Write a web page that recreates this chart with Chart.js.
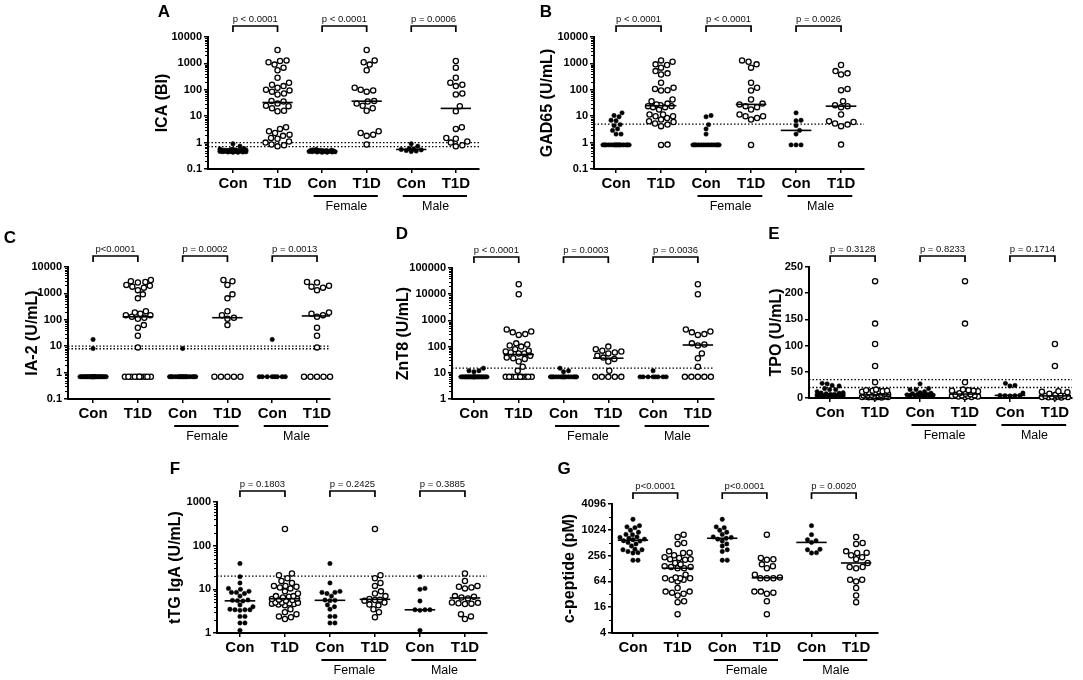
<!DOCTYPE html>
<html lang="en">
<head>
<meta charset="UTF-8">
<title>Autoantibodies and c-peptide by group</title>
<script src="https://cdn.jsdelivr.net/npm/chart.js"></script>
<style>
  body { margin: 0; background: #fff; width: 1083px; height: 680px; position: relative; overflow: hidden;
         font-family: 'Liberation Sans', Arial, sans-serif; }
  canvas { position: absolute; }
  .letter { position: absolute; font-weight: bold; font-size: 17px; transform: translate(-50%, -50%); }
</style>
</head>
<body>
<script>
// categories under each x axis, and the two sex groups
const CATS = ['Con', 'T1D', 'Con', 'T1D', 'Con', 'T1D'];
const SEX = ['Female', 'Male'];

// A - ICA (BI)
const icaFemCon = [0.55, 0.53, 0.52, 0.51, 0.5, 0.5, 0.5, 0.49, 0.48, 0.48, 0.47, 0.47, 0.46, 0.46, 0.45, 0.45, 0.44, 0.44, 0.43, 0.43];
const icaFemT1D = [3200, 1300, 1100, 900, 550, 120, 100, 95, 85, 38, 36, 30, 25, 20, 16, 2.7, 2.3, 2.0, 1.8, 0.85];
const icaMaleCon = [0.9, 0.73, 0.6, 0.57, 0.55, 0.53, 0.5, 0.48, 0.46];
const icaMaleT1D = [1230, 690, 285, 185, 155, 138, 72, 66, 24, 15.5, 3.8, 3.3, 1.5, 1.4, 1.1, 1.0, 0.79, 0.72];
const icaCut = [1, 0.7];
const icaP = ['p < 0.0001', 'p < 0.0001', 'p = 0.0006'];

// B - GAD65 (U/mL)
const gadFemCon = [10.6, 9.5, 4.8, 3.3, 2.1, 0.82, 0.82, 0.82, 0.82, 0.82, 0.82, 0.82, 0.82, 0.82, 0.82, 0.82, 0.82, 0.82];
const gadFemT1D = [1300, 1150, 920, 690, 185, 120, 94, 43, 30, 28, 24, 22, 18, 11.6, 10, 10, 8.6, 7.5, 0.82];
const gadMaleCon = [13.4, 7, 6.7, 4.4, 2.9, 2.1, 0.82, 0.82, 0.82];
const gadMaleT1D = [870, 510, 420, 380, 108, 97, 37, 26, 24, 22, 11.6, 6.4, 6, 5.3, 4.8, 4.2, 0.84];
const gadCut = [5];
const gadP = ['p < 0.0001', 'p < 0.0001', 'p = 0.0026'];

// C - IA-2 (U/mL)
const ia2FemCon = [8.2, 0.7, 0.7, 0.7, 0.7, 0.7, 0.7, 0.7, 0.7, 0.7, 0.7, 0.7, 0.7, 0.7, 0.7, 0.7, 0.7, 0.7];
const ia2FemT1D = [3200, 2900, 2100, 920, 650, 210, 150, 120, 110, 63, 0.7, 0.7, 0.7, 0.7, 0.7];
const ia2MaleCon = [18, 0.7, 0.7, 0.7, 0.7, 0.7, 0.7, 0.7, 0.7];
const ia2MaleT1D = [2700, 2600, 1950, 1800, 1650, 1330, 190, 170, 150, 130, 50, 25, 9, 0.7, 0.7, 0.7, 0.7, 0.7];
const ia2Cut = [10, 8];
const ia2P = ['p<0.0001', 'p = 0.0002', 'p = 0.0013'];

// D - ZnT8 (U/mL)
const zntFemCon = [15, 12, 11, 7, 7, 7, 7, 7, 7, 7, 7, 7, 7, 7, 7, 7, 7, 7];
const zntFemT1D = [100, 80, 70, 65, 60, 55, 45, 38, 34, 27, 12, 7, 7, 7, 7, 7];
const zntMaleCon = [12, 7, 7, 7, 7, 7, 7, 7, 7];
const zntMaleT1D = [24000, 10000, 450, 375, 350, 300, 280, 133, 120, 110, 55, 36, 17, 7, 7, 7, 7, 7];
const zntCut = [15];
const zntP = ['p < 0.0001', 'p = 0.0003', 'p = 0.0036'];

// E - TPO (U/mL)
const tpoFemCon = [27, 18, 16, 16, 12, 10, 9, 8, 7, 7, 6, 6, 5, 5, 4, 4, 3, 3];
const tpoFemT1D = [223, 142, 30, 16, 15, 14, 14, 13, 9, 8, 7, 6, 5, 5, 4, 4, 3, 3, 2, 2];
const tpoMaleCon = [28, 24, 23, 9.5, 5, 5, 4.5, 4.5, 4];
const tpoMaleT1D = [103, 61, 13, 12, 11, 8, 6, 5, 4, 4, 3, 3, 2, 2, 1.5, 1, 1];
const tpoCut = [35, 20];
const tpoP = ['p = 0.3128', 'p = 0.8233', 'p = 0.1714'];

// F - tTG IgA (U/mL)
const ttgFemCon = [39, 14, 9, 8.5, 8.5, 8, 7, 5.7, 5.6, 5.5, 4.4, 4, 3.5, 2.4, 2.4, 1.7, 1.7];
const ttgFemT1D = [240, 21, 18, 14, 12, 9, 8, 7, 6, 5.8, 5.7, 5.5, 5, 4.5, 4.3, 3.5, 3, 2.3];
const ttgMaleCon = [19.5, 10.5, 10, 5.4, 3.4, 3.4, 3.3, 3.4, 1.15];
const ttgMaleT1D = [23, 15.5, 12, 11.5, 11, 10.5, 7, 6.8, 6.5, 6.2, 5, 4.9, 4.8, 4.7, 4.6, 2.7, 2.4, 2.1];
const ttgCut = [20];
const ttgP = ['p = 0.1803', 'p = 0.2425', 'p = 0.3885'];

// G - c-peptide (pM)
const cpFemCon = [1800, 1200, 1150, 1000, 900, 800, 700, 680, 650, 620, 560, 480, 430, 350, 320, 200, 200];
const cpFemT1D = [790, 225, 210, 205, 160, 145, 130, 92, 79, 76, 76, 76, 37, 37, 35, 33, 22, 11];
const cpMaleCon = [1280, 790, 600, 570, 520, 360, 350, 300, 295];
const cpMaleT1D = [695, 505, 480, 322, 300, 295, 260, 235, 210, 172, 139, 139, 130, 70, 70, 64, 45, 30, 21];
const cpCut = [];
const cpP = ['p<0.0001', 'p<0.0001', 'p = 0.0020'];

// y axis tick labels
const ticksLog5 = [0.1, 1, 10, 100, 1000, 10000];
const ticksZnt = [1, 10, 100, 1000, 10000, 100000];
const ticksTpo = [0, 50, 100, 150, 200, 250];
const ticksTtg = [1, 10, 100, 1000];
const ticksCp = [4, 16, 64, 256, 1024, 4096];

Chart.defaults.font.family = "'Liberation Sans', Arial, sans-serif";
Chart.defaults.color = '#000';

const PL = 75, PR = 8, PT = 42, PB = 50;   // room round each plot area
const SPREAD = 13;                         // max half width of a dot column, px

const panels = [
  { letter: 'A', at: [164, 12], title: 'ICA (BI)', tdx: 45, box: [208, 37, 479, 169], xr: [0.44, 6.52], log: true, yt: ticksLog5,
    fCon: icaFemCon, fT1D: icaFemT1D, mCon: icaMaleCon, mT1D: icaMaleT1D, cut: icaCut, p: icaP },
  { letter: 'B', at: [546, 12], title: 'GAD65 (U/mL)', tdx: 46, box: [594, 37, 864, 169], xr: [0.51, 6.51], log: true, yt: ticksLog5,
    fCon: gadFemCon, fT1D: gadFemT1D, mCon: gadMaleCon, mT1D: gadMaleT1D, cut: gadCut, p: gadP },
  { letter: 'C', at: [10, 238], title: 'IA-2 (U/mL)', tdx: 35, box: [68, 267, 330, 399], xr: [0.44, 6.29], log: true, yt: ticksLog5,
    fCon: ia2FemCon, fT1D: ia2FemT1D, mCon: ia2MaleCon, mT1D: ia2MaleT1D, cut: ia2Cut, p: ia2P },
  { letter: 'D', at: [402, 234], title: 'ZnT8 (U/mL)', tdx: 48, box: [452, 268, 714, 399], xr: [0.51, 6.36], log: true, yt: ticksZnt,
    fCon: zntFemCon, fT1D: zntFemT1D, mCon: zntMaleCon, mT1D: zntMaleT1D, cut: zntCut, p: zntP },
  { letter: 'E', at: [774, 234], title: 'TPO (U/mL)', tdx: 32, box: [809, 267, 1072, 398], xr: [0.53, 6.38], log: false, yt: ticksTpo,
    fCon: tpoFemCon, fT1D: tpoFemT1D, mCon: tpoMaleCon, mT1D: tpoMaleT1D, cut: tpoCut, p: tpoP },
  { letter: 'F', at: [175, 469], title: 'tTG IgA (U/mL)', tdx: 41, box: [217, 502, 487, 633], xr: [0.49, 6.49], log: true, yt: ticksTtg,
    fCon: ttgFemCon, fT1D: ttgFemT1D, mCon: ttgMaleCon, mT1D: ttgMaleT1D, cut: ttgCut, p: ttgP },
  { letter: 'G', at: [564, 469], title: 'c-peptide (pM)', tdx: 42, box: [612, 504, 878, 633], xr: [0.53, 6.49], log: true, yt: ticksCp,
    fCon: cpFemCon, fT1D: cpFemT1D, mCon: cpMaleCon, mT1D: cpMaleT1D, cut: cpCut, p: cpP }
];

function median(a) {
  const s = [...a].sort((p, q) => p - q);
  const n = s.length;
  return n % 2 ? s[(n - 1) / 2] : (s[n / 2 - 1] + s[n / 2]) / 2;
}

// small ticks between the labelled ones on log axes
function minorTicks(P) {
  if (!P.log) return [];
  const out = [];
  const ratio = Math.round(P.yt[1] / P.yt[0]);
  const ks = ratio === 10 ? [2, 3, 4, 5, 6, 7, 8, 9] : [2];
  for (let i = 0; i < P.yt.length - 1; i++) ks.forEach(k => out.push(P.yt[i] * k));
  return out;
}

function drawDeco(chart, P) {
  const ctx = chart.ctx, xs = chart.scales.x, ys = chart.scales.y, a = chart.chartArea;
  ctx.save();
  ctx.strokeStyle = '#000';
  ctx.fillStyle = '#000';

  ctx.lineWidth = 1;
  minorTicks(P).forEach(v => {
    const y = Math.round(ys.getPixelForValue(v)) + 0.5;
    ctx.beginPath(); ctx.moveTo(a.left - 3, y); ctx.lineTo(a.left, y); ctx.stroke();
  });

  // axis title
  ctx.save();
  ctx.translate(a.left - P.tdx, (a.top + a.bottom) / 2);
  ctx.rotate(-Math.PI / 2);
  ctx.font = "bold 16px 'Liberation Sans', Arial, sans-serif";
  ctx.textAlign = 'center'; ctx.textBaseline = 'middle';
  ctx.fillText(P.title, 0, 0);
  ctx.restore();

  // p-value brackets
  ctx.lineWidth = 1.7;
  ctx.font = "9.5px 'Liberation Sans', Arial, sans-serif";
  ctx.textAlign = 'center'; ctx.textBaseline = 'middle';
  for (let g = 0; g < 3; g++) {
    const x1 = xs.getPixelForValue(2 * g + 1), x2 = xs.getPixelForValue(2 * g + 2);
    const yb = a.top - 11;
    ctx.beginPath();
    ctx.moveTo(x1, yb + 6); ctx.lineTo(x1, yb); ctx.lineTo(x2, yb); ctx.lineTo(x2, yb + 6);
    ctx.stroke();
    ctx.fillStyle = '#111';
    ctx.fillText(P.p[g], (x1 + x2) / 2, a.top - 18);
  }

  // Female / Male groups
  ctx.fillStyle = '#000';
  ctx.lineWidth = 2;
  ctx.font = "12.5px 'Liberation Sans', Arial, sans-serif";
  for (let g = 0; g < 2; g++) {
    const c1 = 3 + 2 * g, c2 = 4 + 2 * g;
    const yl = a.bottom + 27;
    ctx.beginPath();
    ctx.moveTo(xs.getPixelForValue(c1 - 0.19), yl);
    ctx.lineTo(xs.getPixelForValue(c2 + 0.25), yl);
    ctx.stroke();
    ctx.fillText(SEX[g], (xs.getPixelForValue(c1) + xs.getPixelForValue(c2)) / 2 + 2, a.bottom + 38);
  }
  ctx.restore();
}

// spread the dots of each column sideways so they do not sit on each other
function swarm(chart) {
  const xs = chart.scales.x, ys = chart.scales.y;
  const unit = xs.getPixelForValue(2) - xs.getPixelForValue(1);
  chart.data.datasets.forEach(ds => {
    if (!ds.vals) return;
    const pts = ds.vals.map(v => ({ v: v, py: ys.getPixelForValue(v), off: 0 }))
      .sort((p, q) => q.py - p.py);
    const done = [];
    pts.forEach(p => {
      let pick = 0, best = -1;
      for (let k = 0; k <= SPREAD * 4; k++) {
        const off = (k % 2 ? 1 : -1) * Math.ceil(k / 2) * 0.5;
        let gap = Infinity;
        done.forEach(q => { gap = Math.min(gap, Math.hypot(q.off - off, q.py - p.py)); });
        if (gap >= ds.gap) { pick = off; break; }
        if (gap > best + 0.01) { best = gap; pick = off; }
      }
      p.off = pick;
      done.push(p);
    });
    ds.data = pts.map(p => ({ x: ds.pos + p.off / unit, y: p.v }));
  });
  chart.update('none');
}

function buildPanel(P) {
  const [l, t, r, b] = P.box;
  const w = r - l + PL + PR, h = b - t + PT + PB;
  const cv = document.createElement('canvas');
  cv.width = w; cv.height = h;
  cv.style.left = (l - PL) + 'px'; cv.style.top = (t - PT) + 'px';
  document.body.appendChild(cv);

  const lt = document.createElement('div');
  lt.className = 'letter';
  lt.textContent = P.letter;
  lt.style.left = P.at[0] + 'px'; lt.style.top = P.at[1] + 'px';
  document.body.appendChild(lt);

  const groups = [P.fCon.concat(P.mCon), P.fT1D.concat(P.mT1D), P.fCon, P.fT1D, P.mCon, P.mT1D];
  const datasets = [];
  P.cut.forEach(c => datasets.push({
    type: 'line', order: 2, data: [{ x: P.xr[0], y: c }, { x: P.xr[1], y: c }],
    borderColor: '#000', borderWidth: 1.3, borderDash: [1.5, 2], pointRadius: 0, fill: false
  }));
  groups.forEach((vals, i) => {
    const open = i % 2 === 1;
    const m = median(vals);
    datasets.push({
      type: 'line', order: 0, data: [{ x: i + 1 - 0.34, y: m }, { x: i + 1 + 0.34, y: m }],
      borderColor: '#000', borderWidth: 1.6, pointRadius: 0, fill: false
    });
    datasets.push({
      type: 'scatter', order: 1, vals: vals, pos: i + 1, gap: open ? 6.2 : 4.8,
      data: vals.map(v => ({ x: i + 1, y: v })),
      pointRadius: open ? 2.6 : 2.2, pointHoverRadius: open ? 2.6 : 2.2,
      pointBackgroundColor: open ? '#fff' : '#000', pointBorderColor: '#000',
      pointBorderWidth: open ? 1.3 : 0.5, clip: false
    });
  });

  const chart = new Chart(cv, {
    type: 'scatter',
    data: { datasets: datasets },
    options: {
      responsive: false, animation: false, events: [],
      layout: { padding: { top: PT, right: PR, left: 0, bottom: 0 } },
      plugins: { legend: { display: false }, tooltip: { enabled: false } },
      scales: {
        x: {
          type: 'linear', min: P.xr[0], max: P.xr[1],
          afterBuildTicks: s => { s.ticks = [1, 2, 3, 4, 5, 6].map(v => ({ value: v })); },
          afterFit: s => { s.height = PB; },
          ticks: { callback: v => CATS[v - 1], font: { size: 15, weight: 'bold' }, color: '#000',
                   padding: 2, autoSkip: false, maxRotation: 0 },
          grid: { drawOnChartArea: false, tickLength: 4, color: '#000', lineWidth: 1.5 },
          border: { color: '#000', width: 2 }
        },
        y: {
          type: P.log ? 'logarithmic' : 'linear',
          min: P.yt[0], max: P.yt[P.yt.length - 1],
          afterBuildTicks: s => { s.ticks = P.yt.map(v => ({ value: v })); },
          afterFit: s => { s.width = PL; },
          ticks: { callback: v => String(v), font: { size: 11, weight: 'bold' }, color: '#000',
                   padding: 2, autoSkip: false },
          grid: { drawOnChartArea: false, tickLength: 4, color: '#000', lineWidth: 1.5 },
          border: { color: '#000', width: 2 }
        }
      }
    },
    plugins: [{ id: 'deco', afterDraw: c => drawDeco(c, P) }]
  });
  swarm(chart);
}

panels.forEach(buildPanel);
</script>
</body>
</html>
